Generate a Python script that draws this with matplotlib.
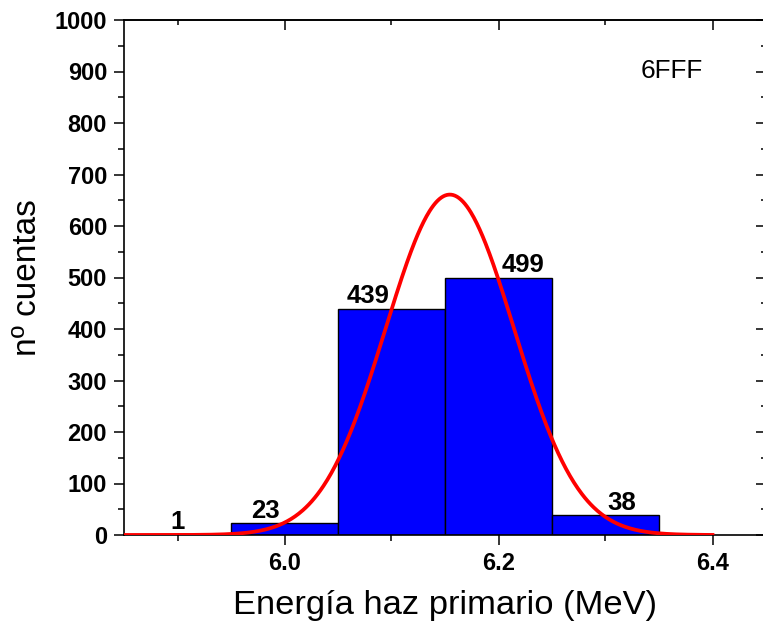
import numpy as np
import matplotlib
matplotlib.use("Agg")
import matplotlib.pyplot as plt
from matplotlib import font_manager as fm

plt.rcParams['font.family'] = ['Liberation Sans', 'DejaVu Sans']

BOLD_TICK = fm.FontProperties(family=['Liberation Sans', 'DejaVu Sans'], weight='bold', size=17)
BOLD_BAR = fm.FontProperties(family=['Liberation Sans', 'DejaVu Sans'], weight='bold', size=18.5)

# Data
bin_centers = [5.9, 6.0, 6.1, 6.2, 6.3]
bin_width = 0.1
counts = [1, 23, 439, 499, 38]
label_x = [5.9, 5.982, 6.078, 6.223, 6.315]
# Gaussian fit parameters
fit_mu = 6.1545
fit_sigma = 0.0600
fit_amp = 661.0
fit_range = (5.85, 6.40)

xticks = [6.0, 6.2, 6.4]
xtick_labels = ["6.0", "6.2", "6.4"]
yticks = list(range(0, 1001, 100))

fig = plt.figure(figsize=(7.63, 6.31), dpi=100)
W, H = 763, 631
ax_left, ax_right, ax_top, ax_bottom = 124, 766, 20, 535
ax = fig.add_axes([ax_left / W, 1 - ax_bottom / H, (ax_right - ax_left) / W, (ax_bottom - ax_top) / H])

ax.bar(bin_centers, counts, width=bin_width, color='#0000FF', edgecolor='black', linewidth=1.0, zorder=2)

xs = np.linspace(fit_range[0], fit_range[1], 600)
ys = fit_amp * np.exp(-0.5 * ((xs - fit_mu) / fit_sigma) ** 2)
ax.plot(xs, ys, color='#FF0000', linewidth=2.7, zorder=3)

for lx, c in zip(label_x, counts):
    ax.annotate(str(c), xy=(lx, c), xytext=(0, 4), textcoords='offset points',
                ha='center', va='baseline', fontproperties=BOLD_BAR, zorder=4)

ax.text(6.362, 901, "6FFF", ha='center', va='center', fontsize=18.8)

ax.set_xlim(5.85, 6.45)
ax.set_ylim(0, 1000)
ax.set_xticks(xticks)
ax.set_xticklabels(xtick_labels)
ax.set_xticks([5.9, 6.1, 6.3], minor=True)
ax.set_yticks(yticks)
ax.set_yticks(list(range(50, 1000, 100)), minor=True)

ax.tick_params(axis='both', which='major', direction='out', length=7.2, width=1.1)
ax.tick_params(axis='x', which='major', pad=5)
ax.tick_params(axis='y', which='major', pad=5)
ax.tick_params(axis='both', which='minor', direction='out', length=4, width=1.1)
for lab in ax.get_xticklabels() + ax.get_yticklabels():
    lab.set_fontproperties(BOLD_TICK)

for sp in ax.spines.values():
    sp.set_linewidth(1.2)

# Top and right axes with inward ticks
secx = ax.secondary_xaxis('top')
secx.set_xticks(xticks)
secx.set_xticks([5.9, 6.1, 6.3], minor=True)
secx.tick_params(axis='x', which='major', direction='in', length=7.2, width=1.1, labeltop=False)
secx.tick_params(axis='x', which='minor', direction='in', length=3.8, width=1.1)
secx.spines['top'].set_linewidth(1.2)

secy = ax.secondary_yaxis('right')
secy.set_yticks(yticks)
secy.set_yticks(list(range(50, 1000, 100)), minor=True)
secy.tick_params(axis='y', which='major', direction='in', length=7.2, width=1.1, labelright=False)
secy.tick_params(axis='y', which='minor', direction='in', length=3.8, width=1.1)

ax.set_xlabel("Energía haz primario (MeV)", fontsize=24.8, labelpad=11)
ax.set_ylabel("nº cuentas", fontsize=24, labelpad=8)

fig.savefig("out.png", dpi=100)
